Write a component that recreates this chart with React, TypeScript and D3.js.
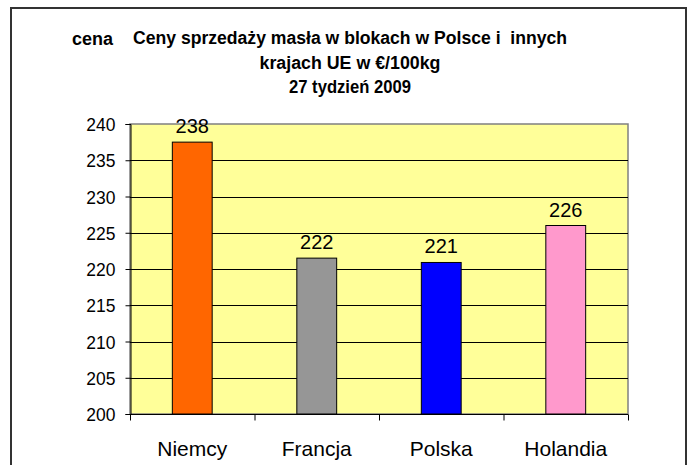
import React, { useEffect, useRef } from 'react';
import * as d3 from 'd3';

// ceny masła w blokach, €/100kg, 27 tydzień 2009
const countries: string[] = ['Niemcy', 'Francja', 'Polska', 'Holandia'];
const prices: number[] = [237.5, 221.5, 220.9, 226.0];
const barColors: string[] = ['#FF6600', '#969696', '#0000FF', '#FF99CC'];
const yTicks: number[] = [200, 205, 210, 215, 220, 225, 230, 235, 240];
const titleLines: string[] = [
  'Ceny sprzedaży masła w blokach w Polsce i  innych',
  'krajach UE w €/100kg',
  '27 tydzień 2009',
];
const titleWidths: number[] = [434, 181, 122];

const W = 692;
const H = 465;
const plot = { left: 130, top: 124, right: 628, bottom: 414 };

const App: React.FC = () => {
  const svgRef = useRef<SVGSVGElement | null>(null);

  useEffect(() => {
    const svg = d3.select(svgRef.current);
    svg.selectAll('*').remove();

    const font = 'Arial, "Liberation Sans", sans-serif';

    // outer frame
    svg.append('rect')
      .attr('x', 11).attr('y', 8)
      .attr('width', 675).attr('height', 470)
      .attr('fill', '#fff')
      .attr('stroke', '#333').attr('stroke-width', 2);

    const x = d3.scaleBand<string>()
      .domain(countries)
      .range([plot.left, plot.right])
      .paddingInner(0.68)
      .paddingOuter(0.34);

    const y = d3.scaleLinear().domain([200, 240]).range([plot.bottom, plot.top]);

    // plot area
    svg.append('rect')
      .attr('x', plot.left).attr('y', plot.top)
      .attr('width', plot.right - plot.left).attr('height', plot.bottom - plot.top)
      .attr('fill', '#FFFF99')
      .attr('stroke', '#808080').attr('stroke-width', 1.5);

    // gridlines
    svg.append('g')
      .selectAll('line')
      .data(yTicks.slice(1, -1))
      .join('line')
      .attr('x1', plot.left).attr('x2', plot.right)
      .attr('y1', d => Math.round(y(d)) + 0.5).attr('y2', d => Math.round(y(d)) + 0.5)
      .attr('stroke', '#000').attr('stroke-width', 1);

    // bars
    svg.append('g')
      .selectAll('rect')
      .data(prices)
      .join('rect')
      .attr('x', (d, i) => x(countries[i])!)
      .attr('y', d => y(d))
      .attr('width', x.bandwidth())
      .attr('height', d => plot.bottom - y(d))
      .attr('fill', (d, i) => barColors[i])
      .attr('stroke', '#000').attr('stroke-width', 1);

    // value labels
    svg.append('g')
      .selectAll('text')
      .data(prices)
      .join('text')
      .attr('x', (d, i) => x(countries[i])! + x.bandwidth() / 2)
      .attr('y', d => y(d) - 9)
      .attr('text-anchor', 'middle')
      .attr('font-family', font).attr('font-size', 20)
      .text(d => String(Math.round(d)));

    // y axis
    const yAxis = svg.append('g')
      .attr('transform', `translate(${plot.left + 0.5},0)`)
      .call(d3.axisLeft(y).tickValues(yTicks).tickSize(5).tickPadding(0));
    yAxis.select('.domain').attr('stroke', '#000');
    yAxis.selectAll('.tick line').attr('stroke', '#000');
    yAxis.selectAll('.tick text').remove();
    yAxis.selectAll('.tick')
      .append('text')
      .attr('transform', 'translate(-15,6.5) scale(0.92,1)')
      .attr('text-anchor', 'end')
      .attr('font-family', font).attr('font-size', 19).attr('fill', '#000')
      .text((d: any) => String(d));

    // x axis
    const xAxis = svg.append('g')
      .attr('transform', `translate(0,${plot.bottom + 0.5})`);
    xAxis.append('line')
      .attr('x1', plot.left).attr('x2', plot.right)
      .attr('stroke', '#000');
    const step = x.step();
    xAxis.selectAll('line.tk')
      .data(d3.range(countries.length + 1))
      .join('line')
      .attr('class', 'tk')
      .attr('x1', i => plot.left + 0.5 + i * step)
      .attr('x2', i => plot.left + 0.5 + i * step)
      .attr('y1', 0).attr('y2', 6)
      .attr('stroke', '#000');
    xAxis.selectAll('text')
      .data(countries)
      .join('text')
      .attr('x', d => x(d)! + x.bandwidth() / 2)
      .attr('y', 41)
      .attr('text-anchor', 'middle')
      .attr('font-family', font).attr('font-size', 21)
      .text(d => d);

    // titles
    svg.append('text')
      .attr('x', 72).attr('y', 45)
      .attr('font-family', font).attr('font-size', 18).attr('font-weight', 'bold')
      .attr('textLength', 41).attr('lengthAdjust', 'spacingAndGlyphs')
      .text('cena');

    svg.append('g')
      .selectAll('text')
      .data(titleLines)
      .join('text')
      .attr('x', (d, i) => 350 - titleWidths[i] / 2)
      .attr('y', (d, i) => 44 + i * 24.5)
      .attr('font-family', font).attr('font-size', 18).attr('font-weight', 'bold')
      .attr('textLength', (d, i) => titleWidths[i])
      .attr('lengthAdjust', 'spacingAndGlyphs')
      .style('white-space', 'pre')
      .text(d => d);
  }, []);

  return (
    <svg ref={svgRef} width={W} height={H}
      style={{ position: 'absolute', left: 0, top: 0 }} />
  );
};

export default App;
